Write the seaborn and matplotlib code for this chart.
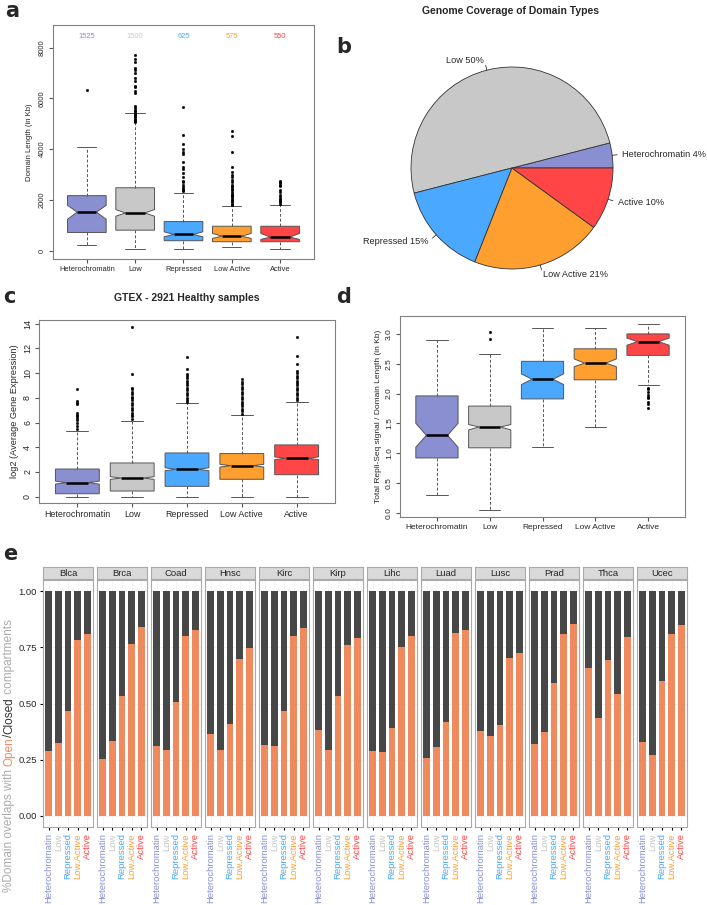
import numpy as np
import pandas as pd
import matplotlib
matplotlib.use("Agg")
import matplotlib.pyplot as plt
import seaborn as sns

sns.set_style("white")
plt.rcParams['font.family'] = ['Liberation Sans', 'DejaVu Sans']

# ---- shared categories ----
types = ["Heterochromatin", "Low", "Repressed", "Low Active", "Active"]
type_colors = ["#8A8FD1", "#C8C8C8", "#4AA8FF", "#FF9F30", "#FF4545"]

# ---- panel a: domain length (Kb) ----
a_counts = [1525, 1500, 625, 575, 550]
a_med = [1520, 1490, 640, 575, 535]
a_q1 = [720, 810, 395, 355, 355]
a_q3 = [2170, 2480, 1150, 965, 965]
a_whislo = [210, 78, 78, 130, 78]
a_whishi = [4100, 5420, 2290, 1780, 1800]
a_cilo = [1240, 1360, 550, 486, 447]
a_cihi = [1790, 1620, 745, 682, 682]
a_fliers = [
    [6320],
    [5080, 5120, 5160, 5200, 5250, 5300, 5350, 5400, 5450, 5500, 5560, 5620, 5700,
     6200, 6300, 6450, 6500, 6700, 6800, 7000, 7100, 7200, 7450, 7550, 7700],
    [2350, 2400, 2450, 2500, 2600, 2700, 2750, 2900, 3050, 3200, 3300, 3500, 3800,
     3900, 4000, 4200, 4550, 5650],
    [1820, 1860, 1900, 1950, 2000, 2050, 2100, 2150, 2200, 2250, 2300, 2400, 2450,
     2500, 2550, 2600, 2700, 2800, 2900, 3000, 3100, 3300, 3900, 4500, 4700],
    [1850, 1900, 1950, 2000, 2050, 2100, 2200, 2300, 2400, 2550, 2600, 2650, 2700, 2750],
]

# ---- panel b: genome coverage (%) ----
pie_pct = [4, 50, 15, 21, 10]

# ---- panel c: GTEX expression ----
c_med = [1.14, 1.51, 2.22, 2.51, 3.11]
c_q1 = [0.24, 0.46, 0.84, 1.41, 1.78]
c_q3 = [2.24, 2.73, 3.54, 3.49, 4.19]
c_whislo = [0, 0, 0, 0, 0]
c_whishi = [5.35, 6.16, 7.57, 6.62, 7.68]
c_cilo = [1.02, 1.40, 2.10, 2.40, 3.00]
c_cihi = [1.26, 1.62, 2.34, 2.62, 3.22]
c_fliers = [
    [5.5, 5.7, 6.0, 6.2, 6.4, 6.5, 6.6, 6.8, 7.5, 7.6, 7.75, 8.7],
    [6.3, 6.5, 6.6, 6.8, 7.0, 7.2, 7.4, 7.6, 7.8, 8.0, 8.1, 8.3, 8.5, 8.7, 8.8, 9.9, 13.7],
    [7.7, 7.8, 8.0, 8.2, 8.4, 8.6, 8.8, 9.0, 9.2, 9.4, 9.6, 9.8, 9.9, 10.3, 11.3],
    [6.7, 6.9, 7.1, 7.3, 7.5, 7.7, 7.9, 8.1, 8.3, 8.5, 8.7, 8.9, 9.1, 9.3, 9.5],
    [7.8, 8.0, 8.2, 8.4, 8.6, 8.8, 9.0, 9.2, 9.4, 9.6, 9.8, 10.0, 10.2, 10.7, 11.4, 12.9],
]

# ---- panel d: Repli-Seq signal / length ----
d_med = [1.30, 1.44, 2.24, 2.51, 2.87]
d_q1 = [0.92, 1.09, 1.91, 2.23, 2.64]
d_q3 = [1.96, 1.79, 2.54, 2.75, 3.00]
d_whislo = [0.30, 0.05, 1.11, 1.44, 2.15]
d_whishi = [2.90, 2.66, 3.10, 3.10, 3.17]
d_cilo = [1.10, 1.39, 2.15, 2.45, 2.81]
d_cihi = [1.50, 1.48, 2.33, 2.58, 2.93]
d_fliers = [[], [2.92, 3.04], [], [],
            [1.75, 1.82, 1.85, 1.92, 1.95, 1.98, 2.03, 2.07, 2.10]]

# ---- panel e: open fraction per cancer ----
e_cancers = ["Blca", "Brca", "Coad", "Hnsc", "Kirc", "Kirp",
             "Lihc", "Luad", "Lusc", "Prad", "Thca", "Ucec"]
e_types = ["Heterochromatin", "Low", "Repressed", "Low.Active", "Active"]
e_open = [
    [0.290, 0.326, 0.467, 0.782, 0.809],
    [0.253, 0.335, 0.532, 0.766, 0.840],
    [0.310, 0.293, 0.505, 0.800, 0.827],
    [0.364, 0.292, 0.409, 0.700, 0.747],
    [0.317, 0.313, 0.467, 0.800, 0.836],
    [0.384, 0.292, 0.533, 0.759, 0.791],
    [0.287, 0.284, 0.393, 0.751, 0.800],
    [0.256, 0.307, 0.418, 0.815, 0.828],
    [0.379, 0.357, 0.404, 0.702, 0.724],
    [0.320, 0.372, 0.590, 0.810, 0.852],
    [0.658, 0.436, 0.692, 0.541, 0.796],
    [0.329, 0.271, 0.599, 0.810, 0.849],
]
open_col = "#EE8A5E"
closed_col = "#474747"

W, H = 707, 905
fig = plt.figure(figsize=(W / 100, H / 100), dpi=100)


def px_axes(x0, y0, x1, y1):
    return fig.add_axes([x0 / W, 1 - y1 / H, (x1 - x0) / W, (y1 - y0) / H])


def r_boxplot(ax, med, q1, q3, lo, hi, cilo, cihi, fliers, fs):
    stats = []
    for i in range(len(types)):
        stats.append(dict(med=med[i], q1=q1[i], q3=q3[i], whislo=lo[i], whishi=hi[i],
                          cilo=cilo[i], cihi=cihi[i], fliers=fliers[i]))
    bp = ax.bxp(stats, positions=range(1, 6), widths=0.8, shownotches=True,
                patch_artist=True,
                boxprops=dict(edgecolor="#555555", linewidth=0.7),
                whiskerprops=dict(color="#555555", linestyle=(0, (3, 2)), linewidth=0.7),
                capprops=dict(color="#555555", linewidth=0.7),
                medianprops=dict(color="black", linewidth=1.8),
                flierprops=dict(marker="o", markersize=1.7, markerfacecolor="black",
                                markeredgecolor="black", markeredgewidth=0.4))
    for patch, col in zip(bp["boxes"], type_colors):
        patch.set_facecolor(col)
    for cap in bp["caps"]:
        x = cap.get_xdata()
        c = (x[0] + x[1]) / 2
        cap.set_xdata([c - 0.2, c + 0.2])
    ax.set_xlim(0.3, 5.7)
    ax.set_xticks(range(1, 6))
    ax.set_xticklabels(types, fontsize=fs)
    for s in ax.spines.values():
        s.set_color("#808080")
        s.set_linewidth(0.8)
        s.set_visible(True)
    ax.tick_params(axis="both", direction="out", length=3, color="#555555",
                   labelsize=fs, left=True, bottom=True, pad=2)


# ---- panel a ----
ax_a = px_axes(53, 25, 314, 259)
r_boxplot(ax_a, a_med, a_q1, a_q3, a_whislo, a_whishi, a_cilo, a_cihi, a_fliers, 5.4)
ax_a.set_ylim(-325, 8890)
ax_a.set_yticks([0, 2000, 4000, 6000, 8000])
ax_a.set_yticklabels(["0", "2000", "4000", "6000", "8000"], rotation=90, va="center")
ax_a.set_ylabel("Domain Length (in Kb)", fontsize=5.6, labelpad=4)
for i, (n, col) in enumerate(zip(a_counts, type_colors)):
    ax_a.text(i + 1, 8430, str(n), color=col, fontsize=5.4, ha="center", va="center")

# ---- panel b ----
ax_b = px_axes(411, 67, 613, 269)
wedges, texts = ax_b.pie(pie_pct, labels=[f"{t} {p}%" for t, p in zip(types, pie_pct)],
                         colors=type_colors, startangle=0, counterclock=True,
                         labeldistance=1.1,
                         wedgeprops=dict(edgecolor="#333333", linewidth=0.6),
                         textprops=dict(fontsize=6.6))
for w in wedges:
    ang = np.deg2rad((w.theta1 + w.theta2) / 2)
    ax_b.plot([np.cos(ang), 1.05 * np.cos(ang)], [np.sin(ang), 1.05 * np.sin(ang)],
              color="#333333", lw=0.6, clip_on=False)
ax_b.set_xlim(-1, 1)
ax_b.set_ylim(-1, 1)
fig.text(510 / W, 1 - 11 / H, "Genome Coverage of Domain Types", fontsize=7.5,
         fontweight="bold", ha="center", va="center")

# ---- panel c ----
ax_c = px_axes(39, 320, 335, 503)
r_boxplot(ax_c, c_med, c_q1, c_q3, c_whislo, c_whishi, c_cilo, c_cihi, c_fliers, 6.4)
ax_c.set_ylim(-0.51, 14.3)
ax_c.set_yticks(range(0, 15, 2))
ax_c.set_yticklabels([str(v) for v in range(0, 15, 2)], rotation=90, va="center")
ax_c.set_ylabel("log2 (Average Gene Expression)", fontsize=6.6, labelpad=3)
fig.text(187 / W, 1 - 298 / H, "GTEX - 2921 Healthy samples", fontsize=7.5,
         fontweight="bold", ha="center", va="center")

# ---- panel d ----
ax_d = px_axes(400, 316, 685, 517)
r_boxplot(ax_d, d_med, d_q1, d_q3, d_whislo, d_whishi, d_cilo, d_cihi, d_fliers, 6.0)
ax_d.set_ylim(-0.07, 3.3)
d_ticks = [0.0, 0.5, 1.0, 1.5, 2.0, 2.5, 3.0]
ax_d.set_yticks(d_ticks)
ax_d.set_yticklabels([f"{v:.1f}" for v in d_ticks], rotation=90, va="center")
ax_d.set_ylabel("Total Repli-Seq signal / Domain Length (in Kb)", fontsize=6.0, labelpad=3)

# ---- panel e ----
for i, (cancer, opens) in enumerate(zip(e_cancers, e_open)):
    x0 = 43 + 54 * i
    ax = px_axes(x0, 580, x0 + 50, 827)
    df = pd.DataFrame({"type": e_types, "open": opens})
    df["closed"] = 1 - df["open"]
    df["total"] = df["open"] + df["closed"]
    sns.barplot(data=df, x="type", y="total", color=closed_col, width=0.7,
                saturation=1, ax=ax, order=e_types)
    sns.barplot(data=df, x="type", y="open", color=open_col, width=0.7,
                saturation=1, ax=ax, order=e_types)
    for p in ax.patches:
        p.set_edgecolor("none")
    ax.set_xlim(-0.6, 4.6)
    ax.set_ylim(-0.049, 1.049)
    ax.set_xlabel("")
    ax.set_ylabel("")
    ax.set_yticks([0, 0.25, 0.5, 0.75, 1.0])
    ax.grid(True, color="#F0F0F0", linewidth=0.5)
    ax.set_axisbelow(True)
    for s in ax.spines.values():
        s.set_visible(True)
        s.set_color("#AAAAAA")
        s.set_linewidth(0.8)
    ax.tick_params(axis="x", length=2.5, color="black", bottom=True, pad=2,
                   labelsize=6.8, labelrotation=90)
    ax.set_xticks(range(5))
    ax.set_xticklabels(e_types)
    for t, col in zip(ax.get_xticklabels(), type_colors):
        t.set_color(col)
        t.set_ha("center")
        t.set_va("top")
    if i == 0:
        ax.set_yticklabels(["0.00", "0.25", "0.50", "0.75", "1.00"])
        ax.tick_params(axis="y", length=2.5, color="black", left=True, labelsize=6.8, pad=2)
    else:
        ax.tick_params(axis="y", left=False, labelleft=False)
    # facet strip
    strip = px_axes(x0, 567, x0 + 50, 579)
    strip.set_facecolor("#D9D9D9")
    strip.set_xticks([])
    strip.set_yticks([])
    for s in strip.spines.values():
        s.set_visible(True)
        s.set_color("#AAAAAA")
        s.set_linewidth(0.8)
    strip.text(0.5, 0.45, cancer, fontsize=6.8, ha="center", va="center",
               transform=strip.transAxes)

# multi-coloured y label for panel e
renderer = fig.canvas.get_renderer()
pieces = [("%Domain overlaps with ", "#ABABAB"), ("Open", open_col),
          ("/", "#333333"), ("Closed", "#333333"), (" compartments", "#ABABAB")]
y = 1 - 892 / H
for txt, col in pieces:
    t = fig.text(9 / W, y, txt, color=col, rotation=90, fontsize=8.5,
                 ha="center", va="bottom")
    bb = t.get_window_extent(renderer)
    y += bb.height / fig.bbox.height

# panel letters
for letter, (lx, ly) in {"a": (5, 17), "b": (336, 53), "c": (3, 303),
                         "d": (336, 303), "e": (3, 560)}.items():
    fig.text(lx / W, 1 - ly / H, letter, fontsize=15, fontweight="bold",
             family="DejaVu Sans", ha="left", va="baseline")

fig.savefig("out.png", dpi=100)
